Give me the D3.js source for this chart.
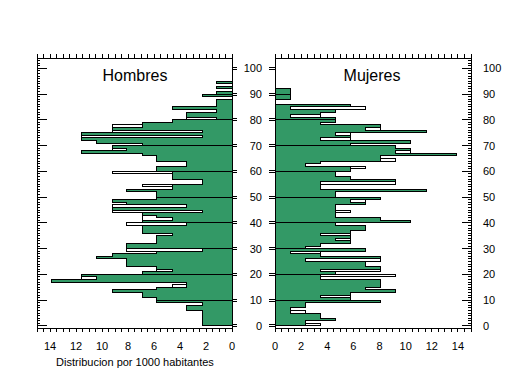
<!DOCTYPE html>
<html>
<head>
<meta charset="utf-8">
<script src="https://cdn.jsdelivr.net/npm/d3@7"></script>
<style>
  body { margin: 0; background: #fff; }
  text { font-family: Arial, "Liberation Sans", sans-serif; fill: #000; }
</style>
</head>
<body>
<div id="svg-holder"></div>
<script>
// edades 0..94, un valor por año (por 1000 habitantes)
const edades = d3.range(0, 95)

// relleno verde
const hombres = [
  2.3, 2.3, 2.3, 2.3, 2.3, 2.3, 3.5, 3.5, 2.3, 5.8,
  5.8, 6.9, 6.9, 9.2, 5.8, 3.5, 3.5, 13.9, 10.4, 11.6,
  6.9, 4.6, 5.8, 8.1, 8.1, 8.1, 10.4, 9.2, 5.8, 2.3,
  8.1, 8.1, 5.8, 5.8, 5.8, 4.6, 6.9, 6.9, 6.9, 3.5,
  6.9, 4.6, 5.8, 6.9, 2.3, 9.2, 3.5, 8.1, 9.2, 5.8,
  5.8, 5.8, 8.1, 4.6, 4.6, 2.3, 2.3, 4.6, 4.6, 4.6,
  5.8, 5.8, 3.5, 3.5, 5.8, 5.8, 6.9, 11.6, 8.1, 9.2,
  6.9, 10.4, 11.6, 2.3, 11.6, 2.3, 9.2, 6.9, 6.9, 4.6,
  1.2, 3.5, 3.5, 1.2, 4.6, 1.2, 1.2, 1.2, 0, 2.3,
  1.2, 0, 1.2, 0, 1.2
]
// contorno negro
const hombresContorno = [
  2.3, 2.3, 2.3, 2.3, 2.3, 2.3, 3.5, 3.5, 2.3, 5.8,
  5.8, 6.9, 6.9, 9.2, 5.8, 4.6, 3.5, 13.9, 11.6, 11.6,
  6.9, 5.8, 5.8, 8.1, 8.1, 8.1, 10.4, 9.2, 5.8, 8.1,
  8.1, 8.1, 5.8, 5.8, 5.8, 4.6, 6.9, 6.9, 6.9, 8.1,
  6.9, 6.9, 6.9, 6.9, 9.2, 9.2, 9.2, 8.1, 9.2, 5.8,
  5.8, 5.8, 8.1, 4.6, 6.9, 2.3, 2.3, 4.6, 4.6, 9.2,
  5.8, 5.8, 3.5, 3.5, 5.8, 5.8, 6.9, 11.6, 9.2, 9.2,
  6.9, 10.4, 11.6, 11.6, 11.6, 9.2, 9.2, 9.2, 6.9, 4.6,
  3.5, 3.5, 3.5, 1.2, 4.6, 1.2, 1.2, 1.2, 0, 2.3,
  1.2, 0, 1.2, 0, 1.2
]
const mujeres = [
  2.3, 2.3, 4.6, 3.5, 3.5, 1.2, 1.2, 2.3, 2.3, 8.1,
  5.8, 3.5, 5.8, 9.2, 6.9, 8.1, 8.1, 8.1, 3.5, 3.5,
  4.6, 3.5, 8.1, 6.9, 6.9, 2.3, 8.1, 3.5, 1.2, 6.9,
  2.3, 3.5, 5.8, 4.6, 5.8, 3.5, 5.8, 6.9, 6.9, 4.6,
  10.4, 8.1, 4.6, 4.6, 4.6, 4.6, 4.6, 6.9, 5.8, 8.1,
  4.6, 4.6, 11.6, 3.5, 3.5, 3.5, 9.2, 5.8, 4.6, 4.6,
  5.8, 5.8, 2.3, 3.5, 8.1, 8.1, 13.9, 9.2, 10.4, 9.2,
  5.8, 10.4, 3.5, 5.8, 4.6, 11.6, 6.9, 8.1, 3.5, 4.6,
  4.6, 1.2, 3.5, 4.6, 1.2, 5.8, 0, 0, 1.2, 1.2,
  1.2, 1.2, 0, 0, 0
]
const mujeresContorno = [
  3.5, 2.3, 4.6, 3.5, 3.5, 2.3, 1.2, 2.3, 2.3, 8.1,
  5.8, 5.8, 5.8, 9.2, 6.9, 8.1, 8.1, 8.1, 3.5, 9.2,
  4.6, 8.1, 8.1, 6.9, 6.9, 8.1, 8.1, 3.5, 3.5, 6.9,
  2.3, 3.5, 5.8, 5.8, 5.8, 5.8, 5.8, 6.9, 6.9, 4.6,
  10.4, 8.1, 4.6, 4.6, 5.8, 4.6, 4.6, 6.9, 6.9, 8.1,
  4.6, 4.6, 11.6, 3.5, 3.5, 9.2, 9.2, 5.8, 4.6, 4.6,
  5.8, 6.9, 2.3, 3.5, 9.2, 8.1, 13.9, 10.4, 10.4, 9.2,
  5.8, 10.4, 5.8, 5.8, 5.8, 11.6, 8.1, 8.1, 3.5, 4.6,
  4.6, 3.5, 3.5, 4.6, 6.9, 5.8, 0, 0, 1.2, 1.2,
  1.2, 1.2, 0, 0, 0
]

const ticksH = [14, 12, 10, 8, 6, 4, 2, 0]
const ticksM = [0, 2, 4, 6, 8, 10, 12, 14]
const ticksEdad = [0, 10, 20, 30, 40, 50, 60, 70, 80, 90, 100]

let width = 509,
    height = 376

let svg = d3.select('#svg-holder').append('svg')
    .attr('width', width)
    .attr('height', height)

let y = d3.scaleLinear().domain([-0.8, 104]).range([328, 58])
let xH = d3.scaleLinear().domain([15, 0]).range([37, 232])
let xM = d3.scaleLinear().domain([0, 15]).range([275, 471])

// one closed step polygon per decade, so a line shows at 10, 20, ...
function decadas(vals) {
    let out = []
    for (let d = 0; d < vals.length; d += 10) {
        let fin = Math.min(d + 10, vals.length)
        let pts = [[0, d]]
        for (let a = d; a < fin; a++) {
            pts.push([vals[a], edades[a]], [vals[a], edades[a] + 1])
        }
        pts.push([0, fin])
        out.push(pts)
    }
    return out
}

function piramide(x, relleno, contorno) {
    let line = d3.line().x(p => x(p[0])).y(p => y(p[1]))
    let g = svg.append('g').attr('shape-rendering', 'crispEdges')
    g.selectAll('path.relleno')
        .data(decadas(relleno))
        .enter()
        .append('path')
        .attr('d', p => line(p) + 'Z')
        .attr('fill', '#339966')
        .attr('stroke', 'black')
        .attr('stroke-width', 1)
    g.selectAll('path.contorno')
        .data(decadas(contorno))
        .enter()
        .append('path')
        .attr('d', p => line(p) + 'Z')
        .attr('fill', 'none')
        .attr('stroke', 'black')
        .attr('stroke-width', 1)
}

piramide(xH, hombres, hombresContorno)
piramide(xM, mujeres, mujeresContorno)

let ax = svg.append('g')
    .attr('stroke', 'black')
    .attr('stroke-width', 1)
    .attr('shape-rendering', 'crispEdges')

function tick(x1, y1, x2, y2) {
    ax.append('line').attr('x1', x1).attr('y1', y1).attr('x2', x2).attr('y2', y2)
}

// frames
ax.append('rect').attr('x', xH(15)).attr('y', y(104)).attr('width', xH(0) - xH(15)).attr('height', y(-0.8) - y(104)).attr('fill', 'none')
ax.append('rect').attr('x', xM(0)).attr('y', y(104)).attr('width', xM(15) - xM(0)).attr('height', y(-0.8) - y(104)).attr('fill', 'none')

// top / bottom ticks every 0.5
d3.range(0, 15.01, 0.5).forEach(v => {
    tick(xH(v), y(-0.8), xH(v), y(-0.8) + 4)
    tick(xH(v), y(104), xH(v), y(104) - 4)
    tick(xM(v), y(-0.8), xM(v), y(-0.8) + 4)
    tick(xM(v), y(104), xM(v), y(104) - 4)
})

// age ticks
d3.range(0, 104).forEach(a => {
    let major = a % 10 === 0
    tick(xH(15), y(a), xH(15) + (major ? 10 : 3), y(a))
    tick(xM(15), y(a), xM(15) - (major ? 9 : 3), y(a))
})
ticksEdad.forEach(a => {
    [-1, 1].forEach(o => {
        tick(xH(0), y(a) + o, xH(0) + 5, y(a) + o)
        tick(xM(0) - 6, y(a) + o, xM(0), y(a) + o)
    })
})

// labels
svg.selectAll('text.th').data(ticksH).enter().append('text')
    .attr('x', d => xH(d)).attr('y', 349.5)
    .attr('text-anchor', 'middle').attr('font-size', 11)
    .text(d => d)
svg.selectAll('text.tm').data(ticksM).enter().append('text')
    .attr('x', d => xM(d)).attr('y', 349.5)
    .attr('text-anchor', 'middle').attr('font-size', 11)
    .text(d => d)
svg.selectAll('text.ec').data(ticksEdad).enter().append('text')
    .attr('x', 262).attr('y', d => y(d) + 4)
    .attr('text-anchor', 'end').attr('font-size', 11)
    .text(d => d)
svg.selectAll('text.er').data(ticksEdad).enter().append('text')
    .attr('x', 483).attr('y', d => y(d) + 4)
    .attr('text-anchor', 'start').attr('font-size', 11)
    .text(d => d)

svg.append('text').attr('x', 135).attr('y', 81).attr('text-anchor', 'middle')
    .attr('font-size', 16).text('Hombres')
svg.append('text').attr('x', 372).attr('y', 81).attr('text-anchor', 'middle')
    .attr('font-size', 16).text('Mujeres')
svg.append('text').attr('x', 135).attr('y', 366).attr('text-anchor', 'middle')
    .attr('font-size', 11).text('Distribucion por 1000 habitantes')
</script>
</body>
</html>
